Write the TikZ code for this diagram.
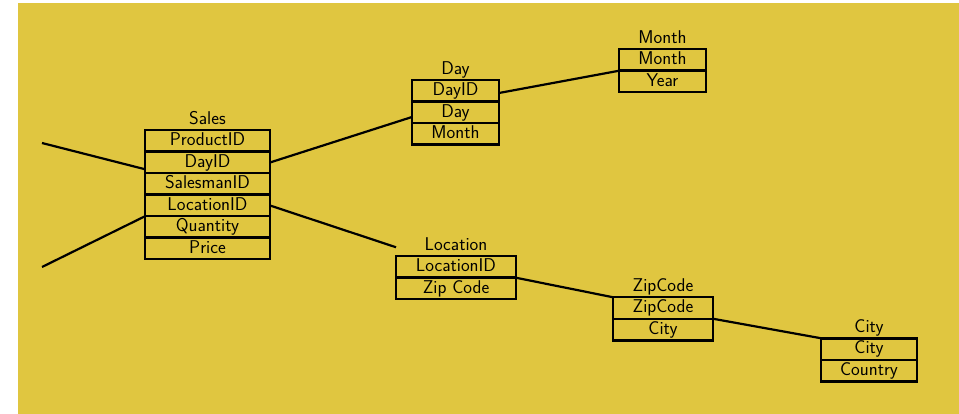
\documentclass[tikz,border=0pt]{standalone}
\usepackage{fontspec}
\usepackage{tikz}
\usetikzlibrary{positioning}
\definecolor{bgyellow}{RGB}{224,198,64}

\begin{document}
\begin{tikzpicture}[x=1pt, y=-1pt,
    field/.style={draw, rectangle, line width=2.5pt, outer sep=0pt, inner sep=0pt,
        minimum height=21.5pt, text height=12.7pt, text depth=3.5pt,
        font=\sffamily\fontsize{18.5}{20}\selectfont},
    title/.style={inner sep=0pt, text height=12.7pt, text depth=3.5pt,
        font=\sffamily\fontsize{18.5}{20}\selectfont},
    link/.style={line width=2.2pt}]
    % Background
    \useasboundingbox (0,0) rectangle (959,414);
    \fill[bgyellow] (18,3) rectangle (959,414);

    % Sales table
    \node[field, minimum width=125pt] (sales-productid) at (207.5,141) {ProductID};
    \node[field, minimum width=125pt, below=0pt of sales-productid] (sales-dayid) {DayID};
    \node[field, minimum width=125pt, below=0pt of sales-dayid] (sales-salesmanid) {SalesmanID};
    \node[field, minimum width=125pt, below=0pt of sales-salesmanid] (sales-locationid) {LocationID};
    \node[field, minimum width=125pt, below=0pt of sales-locationid] (sales-quantity) {Quantity};
    \node[field, minimum width=125pt, below=0pt of sales-quantity] (sales-price) {Price};
    \node[title, above=2.5pt of sales-productid] (sales) {Sales};

    % Day table
    \node[field, minimum width=87pt] (day-dayid) at (455.5,91) {DayID};
    \node[field, minimum width=87pt, below=0pt of day-dayid] (day-day) {Day};
    \node[field, minimum width=87pt, below=0pt of day-day] (day-month) {Month};
    \node[title, above=2.5pt of day-dayid] (day) {Day};

    % Month table
    \node[field, minimum width=87pt] (month-month) at (662.5,60) {Month};
    \node[field, minimum width=87pt, below=0pt of month-month] (month-year) {Year};
    \node[title, above=2.5pt of month-month] (month) {Month};

    % Location table
    \node[field, minimum width=120pt] (location-id) at (456,267) {LocationID};
    \node[field, minimum width=120pt, below=0pt of location-id] (location-zip) {Zip Code};
    \node[title, above=2.5pt of location-id] (location) {Location};

    % ZipCode table
    \node[field, minimum width=100pt] (zip-zipcode) at (663,308) {ZipCode};
    \node[field, minimum width=100pt, below=0pt of zip-zipcode] (zip-city) {City};
    \node[title, above=2.5pt of zip-zipcode] (zipcode) {ZipCode};

    % City table
    \node[field, minimum width=96pt] (city-city) at (869,349) {City};
    \node[field, minimum width=96pt, below=0pt of city-city] (city-country) {Country};
    \node[title, above=2.5pt of city-city] (city) {City};

    % Loose ends on the left
    \coordinate (left-top) at (42,143);
    \coordinate (left-bottom) at (42,267);

    % Edges
    \draw[link] (left-top) -- ([yshift=4pt]sales-dayid.south west);
    \draw[link] (left-bottom) -- (sales-locationid.south west);
    \draw[link] (sales-dayid.east) -- ([yshift=-4.5pt]day-day.west);
    \draw[link] (sales-locationid.east) -- ([yshift=9pt]location-id.north west);
    \draw[link] ([yshift=-2pt]day-dayid.east) -- (month-month.south west);
    \draw[link] (location-id.south east) -- (zip-zipcode.north west);
    \draw[link] (zip-zipcode.south east) -- (city-city.north west);
\end{tikzpicture}
\end{document}
